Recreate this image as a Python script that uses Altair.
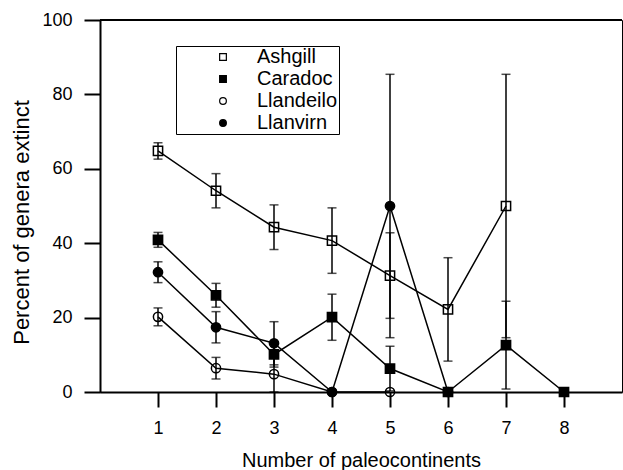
import altair as alt
import pandas as pd

# ---- data ----
series_names = ["Ashgill", "Caradoc", "Llandeilo", "Llanvirn"]
x_ticks = [1, 2, 3, 4, 5, 6, 7, 8]
y_ticks = [0, 20, 40, 60, 80, 100]

ashgill_x = [1, 2, 3, 4, 5, 6, 7]
ashgill_y = [64.8, 54.1, 44.3, 40.7, 31.3, 22.2, 50.0]
ashgill_err = [2.2, 4.6, 6.0, 8.8, 11.5, 13.9, 35.4]

caradoc_x = [1, 2, 3, 4, 5, 6, 7, 8]
caradoc_y = [40.9, 26.0, 10.1, 20.1, 6.3, 0.0, 12.6, 0.0]
caradoc_err = [2.0, 3.2, 3.4, 6.2, 6.0, 0.0, 11.8, 0.0]

llandeilo_x = [1, 2, 3, 4, 5]
llandeilo_y = [20.2, 6.4, 4.8, 0.0, 0.0]
llandeilo_err = [2.4, 2.9, 4.8, 0.0, 0.0]

llanvirn_x = [1, 2, 3, 4, 5, 6]
llanvirn_y = [32.2, 17.4, 13.1, 0.0, 50.0, 0.0]
llanvirn_err = [2.8, 4.2, 5.8, 0.0, 35.4, 0.0]

top_line = [100]

# ---- build table ----
rows = []
for name, xs, ys, es in [
    ("Ashgill", ashgill_x, ashgill_y, ashgill_err),
    ("Caradoc", caradoc_x, caradoc_y, caradoc_err),
    ("Llandeilo", llandeilo_x, llandeilo_y, llandeilo_err),
    ("Llanvirn", llanvirn_x, llanvirn_y, llanvirn_err),
]:
    for xv, yv, ev in zip(xs, ys, es):
        rows.append({"series": name, "x": xv, "y": yv, "err": ev,
                     "lo": yv - ev, "hi": yv + ev})
df = pd.DataFrame(rows)
df_err = df[df["err"] > 0]

FONT = "Liberation Sans"

xscale = alt.Scale(domain=[0, 9], nice=False, zero=False)
yscale = alt.Scale(domain=[0, 100], nice=False)

x_enc = alt.X("x:Q", scale=xscale,
              axis=alt.Axis(values=x_ticks, format="d",
                            title="Number of paleocontinents",
                            tickSize=15, labelPadding=12, titleY=74,
                            titleBaseline="alphabetic", titleFontSize=20))
y_enc = alt.Y("y:Q", scale=yscale,
              axis=alt.Axis(values=y_ticks, format="d",
                            title="Percent of genera extinct",
                            tickSize=16, labelPadding=12, titleX=-72, titleY=202,
                            titleAlign="center", titleBaseline="alphabetic",
                            titleFontSize=22))

legend = alt.Legend(orient="none", legendX=76, legendY=26, title=None,
                    strokeColor="black", fillColor="white", padding=1,
                    symbolOffset=36, labelOffset=24, labelFontSize=20,
                    labelFont=FONT, labelColor="black", symbolSize=45,
                    symbolStrokeWidth=1.2, rowPadding=2)

base = alt.Chart(df)

lines = base.mark_line(color="black", strokeWidth=1.5).encode(
    x=x_enc, y=y_enc, detail="series:N", order="x:Q")

bars = alt.Chart(df_err).mark_rule(color="black", strokeWidth=1.5).encode(
    x="x:Q", y="lo:Q", y2="hi:Q")
cap_lo = alt.Chart(df_err).mark_tick(color="black", orient="horizontal",
                                     size=9, thickness=1.5).encode(x="x:Q", y="lo:Q")
cap_hi = alt.Chart(df_err).mark_tick(color="black", orient="horizontal",
                                     size=9, thickness=1.5).encode(x="x:Q", y="hi:Q")

points = base.mark_point(filled=False, size=85, strokeWidth=1.5, opacity=1).encode(
    x="x:Q", y="y:Q",
    shape=alt.Shape("series:N",
                    scale=alt.Scale(domain=series_names,
                                    range=["square", "square", "circle", "circle"]),
                    legend=legend),
    fill=alt.Fill("series:N",
                  scale=alt.Scale(domain=series_names,
                                  range=["transparent", "black", "transparent", "black"]),
                  legend=legend),
    stroke=alt.Stroke("series:N",
                      scale=alt.Scale(domain=series_names,
                                      range=["black", "black", "black", "black"]),
                      legend=legend),
)

top = alt.Chart(pd.DataFrame({"t": top_line})).mark_rule(
    color="black", strokeWidth=2).encode(y=alt.Y("t:Q", scale=yscale))

chart = alt.layer(bars, cap_lo, cap_hi, lines, points, top).properties(
    width=522, height=372,
    autosize=alt.AutoSizeParams(type="none"),
    padding={"left": 100, "top": 20, "right": 1, "bottom": 78},
    background="white",
).configure_view(stroke="black", strokeWidth=1).configure_axis(
    domainColor="black", domainWidth=2, tickColor="black", tickWidth=2,
    labelFont=FONT, labelFontSize=18, labelColor="black",
    titleFont=FONT, titleColor="black", titleFontWeight="normal", grid=False,
)

chart.save("out.html", embed_options={"renderer": "svg", "actions": False})
